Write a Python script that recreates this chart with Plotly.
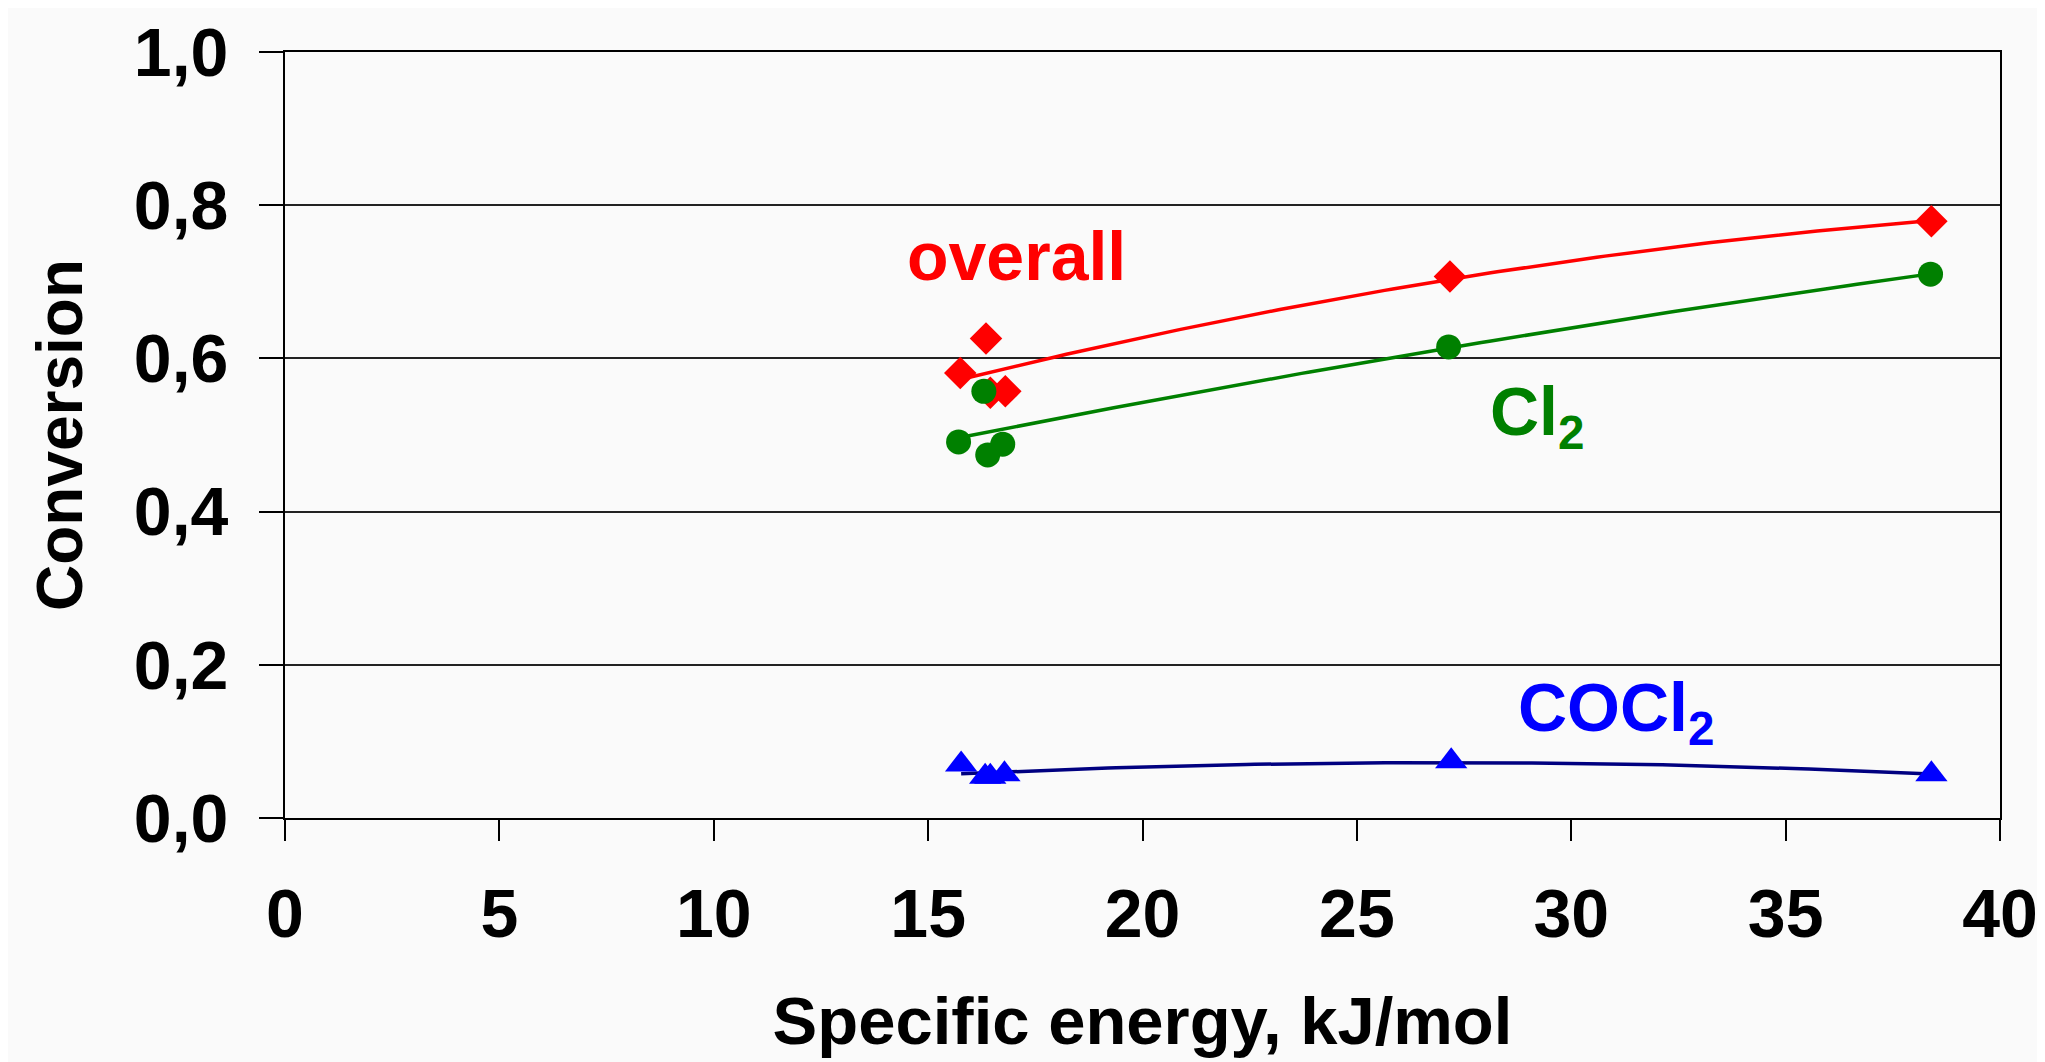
import numpy as np
import plotly.graph_objects as go

# ---- data ----
energy_overall = [15.75, 16.35, 16.45, 16.80, 27.17, 38.40]
overall = [0.581, 0.626, 0.555, 0.557, 0.707, 0.779]

energy_cl2 = [15.71, 16.30, 16.39, 16.74, 27.14, 38.38]
cl2 = [0.491, 0.557, 0.474, 0.488, 0.615, 0.710]

energy_cocl2 = [15.77, 16.33, 16.45, 16.78, 27.20, 38.40]
cocl2 = [0.070, 0.054, 0.054, 0.057, 0.074, 0.057]

x_ticks = [0, 5, 10, 15, 20, 25, 30, 35, 40]
y_ticks = [0.0, 0.2, 0.4, 0.6, 0.8, 1.0]

labels = [("overall", 17.05, 0.734, "#ff0000"),
          ("Cl<sub>2</sub>", 29.2, 0.525, "#008000"),
          ("COCl<sub>2</sub>", 31.05, 0.138, "#0000ff")]

FONT = "Liberation Sans, Arial, sans-serif"


def trend(xs, ys):
    c = np.polyfit(xs, ys, 2)
    xx = np.linspace(min(xs), max(xs), 120)
    return xx, np.polyval(c, xx)


fig = go.Figure()

series = [
    (energy_overall, overall, "#ff0000", "#ff0000", "diamond", 25),
    (energy_cl2, cl2, "#008000", "#008000", "circle", 25),
    (energy_cocl2, cocl2, "#000080", "#0000ff", "triangle-up", 28),
]
for xs, ys, lc, mc, sym, sz in series:
    tx, ty = trend(xs, ys)
    fig.add_trace(go.Scatter(x=tx, y=ty, mode="lines",
                             line=dict(color=lc, width=3.5),
                             showlegend=False, hoverinfo="skip"))
for xs, ys, lc, mc, sym, sz in series:
    fig.add_trace(go.Scatter(x=xs, y=ys, mode="markers",
                             marker=dict(symbol=sym, size=sz, color=mc,
                                         line=dict(width=0)),
                             showlegend=False))

for text, x, y, col in labels:
    fig.add_annotation(x=x, y=y, xref="x", yref="y", text=text,
                       showarrow=False, xanchor="center", yanchor="middle",
                       font=dict(family=FONT, size=68, color=col, weight="bold"))

fig.update_layout(
    width=2045, height=1062,
    margin=dict(l=277, r=53, t=44, b=252),
    paper_bgcolor="#fafafa", plot_bgcolor="#fafafa",
    separators=", ",
    font=dict(family=FONT, color="black"),
)
fig.update_xaxes(
    range=[0, 40], tickvals=x_ticks, ticks="outside", ticklen=21,
    tickwidth=2, tickcolor="black", ticklabelstandoff=14, automargin=False,
    showline=True, linecolor="black", linewidth=2, mirror=True,
    showgrid=False, zeroline=False,
    tickfont=dict(family=FONT, size=68, weight="bold", color="black"),
    title=dict(text="Specific energy, kJ/mol", standoff=48,
               font=dict(family=FONT, size=67, weight="bold", color="black")),
)
fig.update_yaxes(
    range=[0, 1.0], tickvals=y_ticks, tickformat=".1f", ticks="outside",
    ticklen=24, tickwidth=2, tickcolor="black", ticklabelstandoff=17,
    automargin=False,
    showline=True, linecolor="black", linewidth=2, mirror=True,
    showgrid=True, gridcolor="#222222", gridwidth=2, zeroline=False,
    tickfont=dict(family=FONT, size=68, weight="bold", color="black"),
    title=dict(text="Conversion", standoff=30,
               font=dict(family=FONT, size=64, weight="bold", color="black")),
)

fig.write_html("out.html")
